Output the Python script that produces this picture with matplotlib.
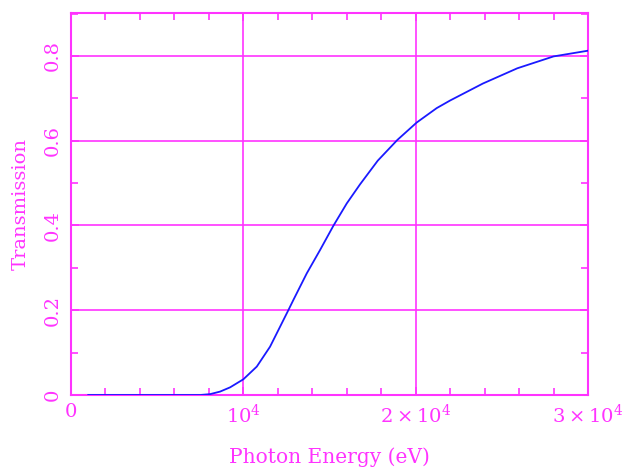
import numpy as np
import matplotlib
matplotlib.use("Agg")
import matplotlib.pyplot as plt
from matplotlib.ticker import MultipleLocator, FixedLocator, FixedFormatter

# transmission curve
energy_ev = [1000, 2000, 3000, 4000, 5000, 6000, 7000, 7500, 8070, 8650, 9230,
             10000, 10780, 11550, 12130, 12610, 12900, 13680, 14450, 15220,
             16000, 16770, 17800, 18940, 20060, 21220, 22000, 23900, 25900,
             28000, 30000]
transmission = [0, 0, 0, 0, 0, 0, 0, 0, 0.002, 0.008, 0.018,
                0.037, 0.067, 0.114, 0.161, 0.2, 0.224, 0.287, 0.342, 0.399,
                0.452, 0.497, 0.553, 0.602, 0.643, 0.677, 0.695, 0.735, 0.771,
                0.799, 0.8125]

x_ticks = [0, 10000, 20000, 30000]
x_ticklabels = ["0", r"$10^4$", r"$2\times10^4$", r"$3\times10^4$"]
y_ticks = [0, 0.2, 0.4, 0.6, 0.8]
y_ticklabels = ["0", "0.2", "0.4", "0.6", "0.8"]

mag = "#ff33ff"
plt.rcParams["font.family"] = ["DejaVu Serif"]
plt.rcParams["mathtext.fontset"] = "dejavuserif"

fig = plt.figure(figsize=(6.23, 4.67), dpi=100)
ax = fig.add_axes([0.114, 0.1542, 0.8298, 0.818])

ax.plot(energy_ev, transmission, color="#1a1aff", linewidth=1.3, zorder=3)

ax.set_xlim(0, 30000)
ax.set_ylim(0, 0.9015)

ax.xaxis.set_major_locator(FixedLocator(x_ticks))
ax.xaxis.set_major_formatter(FixedFormatter(x_ticklabels))
ax.xaxis.set_minor_locator(MultipleLocator(2000))
ax.yaxis.set_major_locator(FixedLocator(y_ticks))
ax.yaxis.set_major_formatter(FixedFormatter(y_ticklabels))
ax.yaxis.set_minor_locator(MultipleLocator(0.1))

ax.grid(True, which="major", color=mag, linewidth=1.2)
for s in ax.spines.values():
    s.set_color(mag)
    s.set_linewidth(1.5)

ax.tick_params(which="both", direction="in", top=True, right=True, colors=mag,
               labelsize=14)
ax.tick_params(which="major", length=6, width=1.2)
ax.tick_params(which="minor", length=5, width=1.2)
ax.tick_params(axis="x", pad=6)
ax.tick_params(axis="y", pad=7, labelrotation=90)
for lab in ax.get_yticklabels():
    lab.set_va("center")

ax.set_xlabel("Photon Energy (eV)", color=mag, fontsize=14.5, labelpad=15)
ax.set_ylabel("Transmission", color=mag, fontsize=14, labelpad=10)

fig.savefig("out.png", dpi=100)
